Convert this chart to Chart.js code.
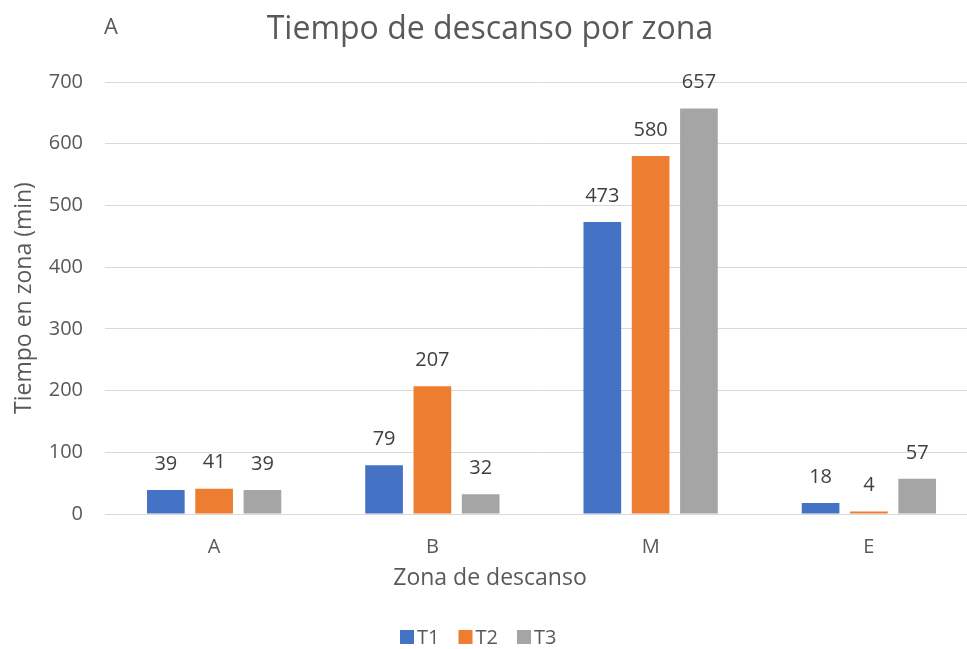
<!DOCTYPE html>
<html>
<head>
<meta charset="utf-8">
<script src="https://cdn.jsdelivr.net/npm/chart.js@4"></script>
<style>
  html, body { margin: 0; padding: 0; background: #fff; overflow: hidden; }
  /* el area de trazado sigue un poco mas alla del borde, como en el original */
  #wrap { width: 978px; height: 649px; }
</style>
</head>
<body>
<div id="wrap"><canvas id="chart"></canvas></div>
<script>
// datos
const zonas = ["A", "B", "M", "E"];
const t1 = [39, 79, 473, 18];
const t2 = [41, 207, 580, 4];
const t3 = [39, 32, 657, 57];
const ticksY = [0, 100, 200, 300, 400, 500, 600, 700];

const FONT = "'Open Sans', 'Liberation Sans', sans-serif";
const GRIS = "#595959";

// titulos, leyenda y etiquetas de valor dibujados a mano
const textos = {
  id: "textos",
  afterDatasetsDraw(chart) {
    const ctx = chart.ctx;
    const area = chart.chartArea;
    ctx.save();
    ctx.textBaseline = "middle";

    // valores encima de las barras
    ctx.font = "20px " + FONT;
    ctx.fillStyle = "#404040";
    ctx.textAlign = "center";
    chart.data.datasets.forEach((ds, i) => {
      chart.getDatasetMeta(i).data.forEach((bar, j) => {
        ctx.fillText(ds.data[j], bar.x, bar.y - 26);
      });
    });

    ctx.fillStyle = GRIS;
    // titulo principal
    ctx.font = "32px " + FONT;
    ctx.fillText("Tiempo de descanso por zona", 490, 30);
    // titulo eje x
    ctx.font = "23px " + FONT;
    ctx.fillText("Zona de descanso", 490, 578);
    // titulo eje y
    ctx.save();
    ctx.translate(24, (area.top + area.bottom) / 2);
    ctx.rotate(-Math.PI / 2);
    ctx.fillText("Tiempo en zona (min)", 0, 0);
    ctx.restore();
    // letra "A" de la esquina
    ctx.font = "22px " + FONT;
    ctx.textAlign = "left";
    ctx.fillText("A", 104, 28);

    // leyenda
    ctx.font = "20px " + FONT;
    let x = 400;
    chart.data.datasets.forEach(ds => {
      ctx.fillStyle = ds.backgroundColor;
      ctx.fillRect(x, 630, 14, 14);
      ctx.fillStyle = GRIS;
      ctx.fillText(ds.label, x + 17, 638);
      x += 58.5;
    });
    ctx.restore();
  }
};

new Chart(document.getElementById("chart"), {
  type: "bar",
  data: {
    labels: zonas,
    datasets: [
      { label: "T1", data: t1, backgroundColor: "#4472c4" },
      { label: "T2", data: t2, backgroundColor: "#ed7d31" },
      { label: "T3", data: t3, backgroundColor: "#a5a5a5" }
    ]
  },
  options: {
    responsive: true,
    maintainAspectRatio: false,
    animation: false,
    layout: { padding: { left: 48, right: 0, top: 82, bottom: 0 } },
    datasets: { bar: { categoryPercentage: 0.664, barPercentage: 0.78 } },
    plugins: {
      title: { display: false },
      legend: { display: false },
      tooltip: { enabled: false }
    },
    scales: {
      x: {
        grid: { display: false },
        border: { color: "#d9d9d9" },
        ticks: { color: GRIS, font: { family: FONT, size: 20 }, padding: 13 },
        afterFit(scale) { scale.height = 135; }
      },
      y: {
        min: 0,
        max: 700,
        afterBuildTicks(axis) { axis.ticks = ticksY.map(v => ({ value: v })); },
        grid: { color: "#d9d9d9", drawTicks: false },
        border: { display: false },
        ticks: { color: GRIS, font: { family: FONT, size: 20 }, padding: 22 },
        afterFit(scale) { scale.width = 57; }
      }
    }
  },
  plugins: [textos]
});
</script>
</body>
</html>
